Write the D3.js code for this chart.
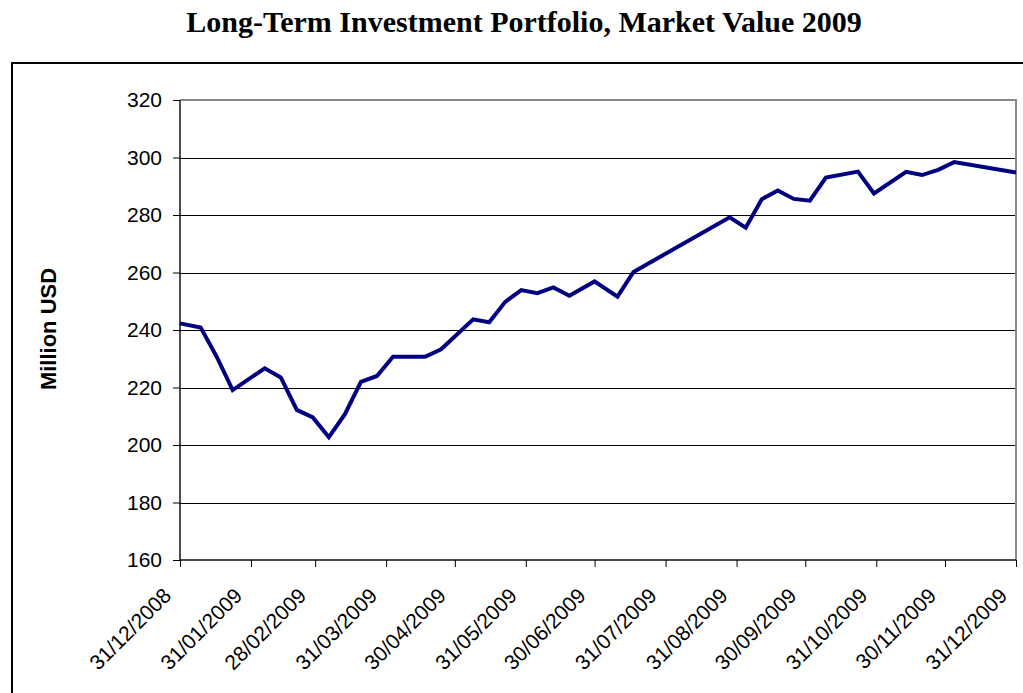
<!DOCTYPE html>
<html>
<head>
<meta charset="utf-8">
<title>Long-Term Investment Portfolio</title>
<script src="https://cdn.jsdelivr.net/npm/d3@7/dist/d3.min.js"></script>
<style>
  body { margin: 0; background: #fff; }
  svg { display: block; }
</style>
</head>
<body>
<svg id="chart" width="1023" height="693"></svg>
<script>
// weekly market values (million USD)
var dates = ["2008-12-31", "2009-01-09", "2009-01-16", "2009-01-23", "2009-02-06",
  "2009-02-13", "2009-02-20", "2009-02-27", "2009-03-06", "2009-03-13",
  "2009-03-20", "2009-03-27", "2009-04-03", "2009-04-17", "2009-04-24",
  "2009-05-08", "2009-05-15", "2009-05-22", "2009-05-29", "2009-06-05",
  "2009-06-12", "2009-06-19", "2009-06-30", "2009-07-10", "2009-07-17",
  "2009-08-28", "2009-09-04", "2009-09-11", "2009-09-18", "2009-09-25",
  "2009-10-02", "2009-10-09", "2009-10-23", "2009-10-30", "2009-11-13",
  "2009-11-20", "2009-11-27", "2009-12-04", "2009-12-31"];
var values = [242.3, 240.9, 230.7, 219.1, 226.7,
  223.5, 212.2, 209.6, 202.7, 210.7,
  222.0, 224.0, 230.7, 230.7, 233.3,
  243.7, 242.7, 249.8, 253.9, 252.8,
  254.8, 251.9, 256.9, 251.6, 260.2,
  279.2, 275.6, 285.5, 288.5, 285.6,
  285.0, 293.0, 295.1, 287.5, 295.0,
  293.9, 295.7, 298.4, 294.8];
var tickDates = ["2008-12-31", "2009-01-31", "2009-02-28", "2009-03-31", "2009-04-30",
  "2009-05-31", "2009-06-30", "2009-07-31", "2009-08-31", "2009-09-30",
  "2009-10-31", "2009-11-30", "2009-12-31"];
var yTicks = [160, 180, 200, 220, 240, 260, 280, 300, 320];

var parse = d3.timeParse("%Y-%m-%d");
var fmt = d3.timeFormat("%d/%m/%Y");
var data = dates.map(function(d, i) { return { date: parse(d), value: values[i] }; });

var svg = d3.select("#chart");
var pLeft = 180, pRight = 1016, pTop = 100, pBottom = 560;
var sans = "'Liberation Sans', Arial, Helvetica, sans-serif";

var x = d3.scaleTime()
  .domain([parse(tickDates[0]), parse(tickDates[tickDates.length - 1])])
  .range([pLeft, pRight]);
var y = d3.scaleLinear().domain([160, 320]).range([pBottom, pTop]);

// title
svg.append("text")
  .attr("x", 524).attr("y", 32)
  .attr("text-anchor", "middle")
  .style("font-family", "'Liberation Serif', 'Times New Roman', serif")
  .style("font-weight", "bold")
  .style("font-size", "30px")
  .text("Long-Term Investment Portfolio, Market Value 2009");

// outer frame (runs off the page right and bottom)
svg.append("rect")
  .attr("x", 12).attr("y", 63)
  .attr("width", 1100).attr("height", 700)
  .attr("fill", "none").attr("stroke", "#000").attr("stroke-width", 2);

// gridlines
svg.append("g")
  .selectAll("line")
  .data(yTicks.slice(1, -1))
  .enter().append("line")
  .attr("x1", pLeft).attr("x2", pRight)
  .attr("y1", function(d) { return Math.round(y(d)) + 0.5; })
  .attr("y2", function(d) { return Math.round(y(d)) + 0.5; })
  .attr("stroke", "#000").attr("stroke-width", 1);

// plot border top/right
svg.append("path")
  .attr("d", "M" + pLeft + "," + pTop + "H" + pRight + "V" + pBottom)
  .attr("fill", "none").attr("stroke", "#888").attr("stroke-width", 2);

// y axis
var yAxis = svg.append("g")
  .attr("transform", "translate(" + pLeft + ",0)")
  .call(d3.axisLeft(y).tickValues(yTicks).tickSize(7).tickPadding(11).tickFormat(d3.format("d")));

// x axis
var xAxis = svg.append("g")
  .attr("transform", "translate(0," + pBottom + ")")
  .call(d3.axisBottom(x).tickValues(tickDates.map(parse)).tickSize(7).tickFormat(fmt));

[yAxis, xAxis].forEach(function(a) {
  a.select(".domain").attr("stroke", "#111").attr("stroke-width", 1.5);
  a.selectAll(".tick line").attr("stroke", "#000");
  a.selectAll("text")
    .attr("fill", "#000")
    .style("font-family", sans)
    .style("font-size", "21px");
});
yAxis.select(".domain").attr("d", "M0," + pBottom + "V" + pTop);
xAxis.select(".domain").attr("d", "M" + pLeft + ",0H" + pRight);

xAxis.selectAll("text")
  .attr("text-anchor", "end")
  .attr("dy", null)
  .attr("x", 0)
  .attr("y", 0)
  .attr("transform", "translate(-8,37) rotate(-45)");

// y label
svg.append("text")
  .attr("transform", "translate(56,329) rotate(-90)")
  .attr("text-anchor", "middle")
  .style("font-family", sans)
  .style("font-weight", "bold")
  .style("font-size", "22px")
  .text("Million USD");

// series line
var line = d3.line()
  .x(function(d) { return x(d.date); })
  .y(function(d) { return y(d.value); });

svg.append("path")
  .datum(data)
  .attr("d", line)
  .attr("fill", "none")
  .attr("stroke", "#000080")
  .attr("stroke-width", 4)
  .attr("stroke-linejoin", "miter");
</script>
</body>
</html>
